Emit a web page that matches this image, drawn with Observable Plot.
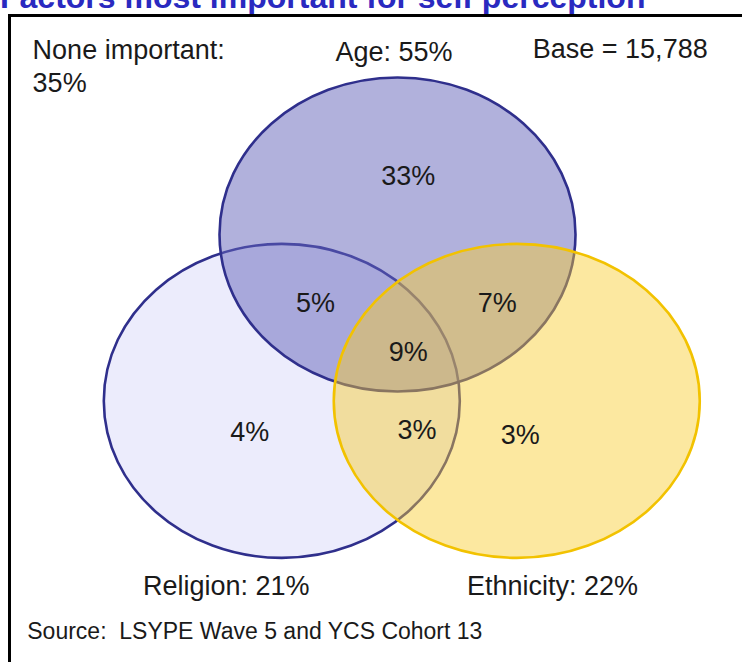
<!DOCTYPE html>
<html><head><meta charset="utf-8">
<script src="https://cdn.jsdelivr.net/npm/d3@7"></script>
<script src="https://cdn.jsdelivr.net/npm/@observablehq/plot@0.6"></script>
<style>
html,body{margin:0;padding:0;background:#fff;overflow:hidden;width:742px;height:662px;}
#title{position:absolute;left:0;top:-19px;font:bold 32px/32px "Liberation Sans",Arial,sans-serif;color:#2a2ac0;white-space:nowrap;}
#frame{position:absolute;left:8px;top:14px;width:800px;height:700px;border-left:3px solid #000;border-top:3px solid #000;}
#chart{position:absolute;left:0;top:0;}
#chart svg text{white-space:pre;}
</style></head><body>
<div id="title"></div><div id="frame"></div><div id="chart"></div>
<script>
// ---- data ----
const title = "Factors most important for self perception";
const sets = ["Age", "Religion", "Ethnicity"];
const setShares = [55, 21, 22];
const regions = ["Age only", "Age & Religion", "Age & Ethnicity", "All three", "Religion only", "Religion & Ethnicity", "Ethnicity only"];
const regionShares = [33, 5, 7, 9, 4, 3, 3];
const noneLabel = "None important:";
const noneShare = 35;
const baseN = 15788;
const sourceNote = "Source:  LSYPE Wave 5 and YCS Cohort 13";

// ---- layout (Venn units: x unit = 178px, y unit = 157px) ----
const setX = [0, -0.65, 0.67];
const setY = [0, -1.06, -1.06];
const setRx = [178, 178, 183];   // horizontal radius, px
const setRy = [157, 157, 157];   // vertical radius, px
const regionX = [0.06, -0.46, 0.56, 0.06, -0.83, 0.11, 0.69];
const regionY = [0.37, -0.44, -0.44, -0.75, -1.26, -1.25, -1.28];
const setLabelX = [-0.02, -1.43, 0.39];
const setLabelY = [1.16, -2.24, -2.24];

// ---- styles ----
const fills = {Age: "#6464b9", Religion: "#dcdcfa", Ethnicity: "#f8cc2c"};
const fillOps = {Age: 0.5, Religion: 0.55, Ethnicity: 0.45};
const strokes = {Age: "#2f2f8c", Religion: "#2f2f8c", Ethnicity: "#f2c200"};
const drawOrder = [1, 0, 2];
const W = 742, H = 662, UX = 178, UY = 157;
const textColor = "#1a1a1a";
const labelSize = 27;

document.getElementById("title").textContent = title;

const K = 0.5522847498;
const ellipseSymbol = aspect => ({
  draw(ctx, size) {
    const rx = Math.sqrt(size / Math.PI), ry = rx * aspect;
    ctx.moveTo(rx, 0);
    ctx.bezierCurveTo(rx, K * ry, K * rx, ry, 0, ry);
    ctx.bezierCurveTo(-K * rx, ry, -rx, K * ry, -rx, 0);
    ctx.bezierCurveTo(-rx, -K * ry, -K * rx, -ry, 0, -ry);
    ctx.bezierCurveTo(K * rx, -ry, rx, -K * ry, rx, 0);
    ctx.closePath();
  }
});

const circles = sets.map((s, i) => ({set: s, x: setX[i], y: setY[i], share: setShares[i], lx: setLabelX[i], ly: setLabelY[i]}));
const regionData = regions.map((r, i) => ({region: r, share: regionShares[i], x: regionX[i], y: regionY[i]}));
const fmt = d3.format(",");

const chart = Plot.plot({
  width: W, height: H,
  marginTop: 0, marginRight: 0, marginBottom: 0, marginLeft: 0,
  x: {domain: [-397 / UX, (W - 397) / UX], axis: null},
  y: {domain: [-(H - 234) / UY, 234 / UY], axis: null},
  style: {background: "transparent", fontFamily: '"Liberation Sans", Arial, sans-serif', overflow: "visible"},
  marks: [
    ...drawOrder.map(i => Plot.dot([circles[i]], {
      x: "x", y: "y", r: setRx[i], symbol: ellipseSymbol(setRy[i] / setRx[i]),
      fill: fills[sets[i]], fillOpacity: fillOps[sets[i]],
      stroke: strokes[sets[i]], strokeWidth: 2.6
    })),
    Plot.text(regionData, {x: "x", y: "y", text: d => `${d.share}%`, fontSize: labelSize, fill: textColor}),
    Plot.text([circles[0]], {x: "lx", y: "ly", text: d => `${d.set}: ${d.share}%`, fontSize: labelSize, fill: textColor}),
    Plot.text(circles.slice(1), {x: "lx", y: "ly", text: d => `${d.set}: ${d.share}%`, fontSize: labelSize, fill: textColor, textAnchor: "start"}),
    Plot.text([{t: noneLabel, y: 1.17}, {t: `${noneShare}%`, y: 0.96}], {x: () => -2.05, y: "y", text: "t", fontSize: labelSize, fill: textColor, textAnchor: "start"}),
    Plot.text([{t: `Base = ${fmt(baseN)}`}], {x: () => 0.76, y: () => 1.18, text: "t", fontSize: labelSize, fill: textColor, textAnchor: "start"}),
    Plot.text([{t: sourceNote}], {x: () => -2.08, y: () => -2.53, text: "t", fontSize: 23, fill: textColor, textAnchor: "start"})
  ]
});
document.getElementById("chart").appendChild(chart);
</script>
</body></html>
